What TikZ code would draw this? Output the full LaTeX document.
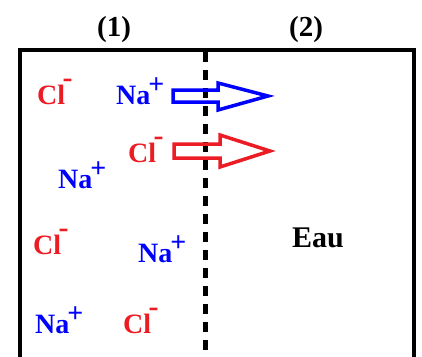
\documentclass[tikz,border=0pt]{standalone}
\usepackage{fontspec}
\setmainfont{Liberation Serif}
\usepackage{xcolor}
\definecolor{ionred}{HTML}{EC1C24}
\definecolor{ionblue}{HTML}{0000FF}
\newcommand{\chlore}{Cl\kern-2.5pt\raisebox{17pt}{\fontsize{30}{30}\selectfont -}}
\newcommand{\sodium}{Na\kern-2pt\raisebox{11pt}{+}}

\begin{document}
\begin{tikzpicture}[
  x=1pt, y=-1pt,
  wall/.style={line width=4.5pt, color=black},
  membrane/.style={line width=5pt, color=black, dash pattern=on 10pt off 8pt},
  ion/.style={anchor=base west, inner sep=0pt, font=\fontsize{28}{28}\selectfont\bfseries},
  anion/.style={ion, color=ionred},
  cation/.style={ion, color=ionblue},
  label/.style={anchor=base west, inner sep=0pt, font=\fontsize{29}{29}\selectfont\bfseries},
  flux/.style={line width=3.5pt, line join=miter},
]
  \useasboundingbox (0,0) rectangle (422,356);

  % compartments
  \draw[wall] (20,360) -- (20,50) -- (414,50) -- (414,360);
  \draw[membrane] (205,52) -- (205,360);

  \node[label] (c1) at (97,36)  {(1)};
  \node[label] (c2) at (289,36) {(2)};
  \node[label, font=\fontsize{30}{30}\selectfont\bfseries] (eau) at (292,247) {Eau};

  % ions in (1)
  \node[anion]  (cl1) at (37,104)  {\chlore};
  \node[cation] (na1) at (116,104) {\sodium};
  \node[anion]  (cl2) at (128,162) {\chlore};
  \node[cation] (na2) at (58,188)  {\sodium};
  \node[anion]  (cl3) at (33,254)  {\chlore};
  \node[cation] (na3) at (138,262) {\sodium};
  \node[cation] (na4) at (35,333)  {\sodium};
  \node[anion]  (cl4) at (123,333) {\chlore};

  % diffusion
  \draw[flux, ionblue] (173,90) -- (218,90) -- (218,83) -- (268,96)
    -- (218,110) -- (218,102) -- (173,102) -- cycle;
  \draw[flux, ionred] (174,144) -- (220,144) -- (220,135) -- (270,151)
    -- (220,167) -- (220,158) -- (174,158) -- cycle;
\end{tikzpicture}
\end{document}
